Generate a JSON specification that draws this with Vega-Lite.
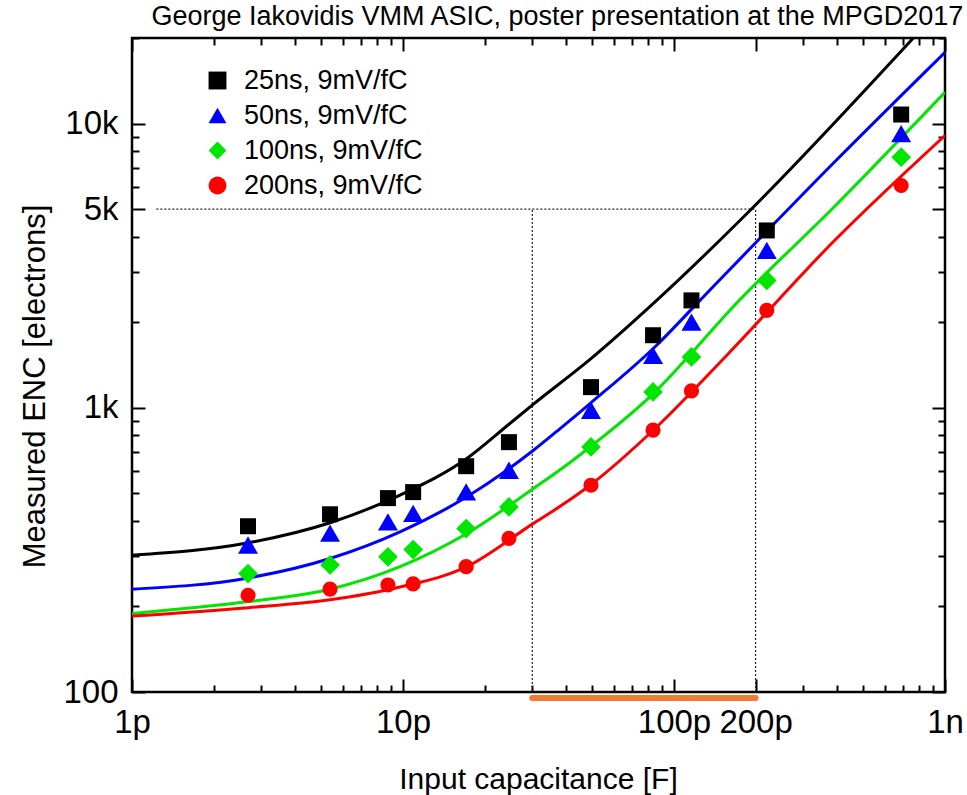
{
  "$schema": "https://vega.github.io/schema/vega-lite/v6.json",
  "width": 813,
  "height": 654,
  "autosize": "none",
  "padding": {"left": 132, "top": 38, "right": 22, "bottom": 103},
  "background": "white",
  "title": {"text": "George Iakovidis VMM ASIC, poster presentation at the MPGD2017", "anchor": "end", "font": "Liberation Sans", "fontSize": 27, "fontWeight": "normal", "color": "black", "baseline": "alphabetic", "offset": 10, "dy": 25},
  "config": {
    "view": {"stroke": "black", "strokeWidth": 2.5},
    "axis": {"grid": false, "tickColor": "black", "tickWidth": 2, "labelFont": "Liberation Sans", "labelColor": "black", "titleFont": "Liberation Sans", "titleColor": "black", "titleFontWeight": "normal"},
    "legend": {"labelFont": "Liberation Sans", "labelColor": "black", "labelLimit": 0}
  },
  "datasets": {
    "hguide": [{"c": 1.23, "c2": 200, "enc": 5000, "enc2": 5000}],
    "vguide": [{"c": 30, "c2": 30, "enc": 100, "enc2": 5000}, {"c": 200, "c2": 200, "enc": 100, "enc2": 5000}],
    "band": [{"c": 30, "c2": 200, "enc": 100}],
    "fit": [
      {"s": "25ns, 9mV/fC", "c": 1, "enc": 303}, {"s": "25ns, 9mV/fC", "c": 2.69, "enc": 335}, {"s": "25ns, 9mV/fC", "c": 5.38, "enc": 394}, {"s": "25ns, 9mV/fC", "c": 9.75, "enc": 493}, {"s": "25ns, 9mV/fC", "c": 17.2, "enc": 663}, {"s": "25ns, 9mV/fC", "c": 24.6, "enc": 875}, {"s": "25ns, 9mV/fC", "c": 30.3, "enc": 1030}, {"s": "25ns, 9mV/fC", "c": 49, "enc": 1480}, {"s": "25ns, 9mV/fC", "c": 86.3, "enc": 2387}, {"s": "25ns, 9mV/fC", "c": 190.7, "enc": 4945}, {"s": "25ns, 9mV/fC", "c": 764, "enc": 20000},
      {"s": "50ns, 9mV/fC", "c": 1, "enc": 230}, {"s": "50ns, 9mV/fC", "c": 2.69, "enc": 252}, {"s": "50ns, 9mV/fC", "c": 5.38, "enc": 295}, {"s": "50ns, 9mV/fC", "c": 9.75, "enc": 366}, {"s": "50ns, 9mV/fC", "c": 17.2, "enc": 486}, {"s": "50ns, 9mV/fC", "c": 30.3, "enc": 709}, {"s": "50ns, 9mV/fC", "c": 38, "enc": 845}, {"s": "50ns, 9mV/fC", "c": 49, "enc": 1035}, {"s": "50ns, 9mV/fC", "c": 86.3, "enc": 1660}, {"s": "50ns, 9mV/fC", "c": 124.7, "enc": 2387}, {"s": "50ns, 9mV/fC", "c": 387, "enc": 7250}, {"s": "50ns, 9mV/fC", "c": 1000, "enc": 17810},
      {"s": "100ns, 9mV/fC", "c": 1, "enc": 189}, {"s": "100ns, 9mV/fC", "c": 2.69, "enc": 208}, {"s": "100ns, 9mV/fC", "c": 5.38, "enc": 230}, {"s": "100ns, 9mV/fC", "c": 9.75, "enc": 276}, {"s": "100ns, 9mV/fC", "c": 17.2, "enc": 361}, {"s": "100ns, 9mV/fC", "c": 30.3, "enc": 520}, {"s": "100ns, 9mV/fC", "c": 38, "enc": 605}, {"s": "100ns, 9mV/fC", "c": 49, "enc": 728}, {"s": "100ns, 9mV/fC", "c": 86.3, "enc": 1152}, {"s": "100ns, 9mV/fC", "c": 124.7, "enc": 1681}, {"s": "100ns, 9mV/fC", "c": 158.6, "enc": 2172}, {"s": "100ns, 9mV/fC", "c": 387, "enc": 5053}, {"s": "100ns, 9mV/fC", "c": 1000, "enc": 12880},
      {"s": "200ns, 9mV/fC", "c": 1, "enc": 185}, {"s": "200ns, 9mV/fC", "c": 2.69, "enc": 198}, {"s": "200ns, 9mV/fC", "c": 5.38, "enc": 211}, {"s": "200ns, 9mV/fC", "c": 9.75, "enc": 234}, {"s": "200ns, 9mV/fC", "c": 17.2, "enc": 276}, {"s": "200ns, 9mV/fC", "c": 30.3, "enc": 392}, {"s": "200ns, 9mV/fC", "c": 38, "enc": 450}, {"s": "200ns, 9mV/fC", "c": 49, "enc": 534}, {"s": "200ns, 9mV/fC", "c": 86.3, "enc": 856}, {"s": "200ns, 9mV/fC", "c": 158.6, "enc": 1550}, {"s": "200ns, 9mV/fC", "c": 387, "enc": 3837}, {"s": "200ns, 9mV/fC", "c": 1000, "enc": 9078}
    ],
    "pts": [
      {"s": "25ns, 9mV/fC", "c": 2.68, "enc": 383}, {"s": "25ns, 9mV/fC", "c": 5.38, "enc": 422}, {"s": "25ns, 9mV/fC", "c": 8.8, "enc": 481}, {"s": "25ns, 9mV/fC", "c": 10.9, "enc": 505}, {"s": "25ns, 9mV/fC", "c": 17.1, "enc": 623}, {"s": "25ns, 9mV/fC", "c": 24.6, "enc": 757}, {"s": "25ns, 9mV/fC", "c": 49.4, "enc": 1182}, {"s": "25ns, 9mV/fC", "c": 83.7, "enc": 1800}, {"s": "25ns, 9mV/fC", "c": 116, "enc": 2387}, {"s": "25ns, 9mV/fC", "c": 220, "enc": 4206}, {"s": "25ns, 9mV/fC", "c": 689, "enc": 10760},
      {"s": "50ns, 9mV/fC", "c": 2.68, "enc": 329}, {"s": "50ns, 9mV/fC", "c": 5.38, "enc": 362}, {"s": "50ns, 9mV/fC", "c": 8.8, "enc": 397}, {"s": "50ns, 9mV/fC", "c": 10.9, "enc": 425}, {"s": "50ns, 9mV/fC", "c": 17.1, "enc": 506}, {"s": "50ns, 9mV/fC", "c": 24.6, "enc": 603}, {"s": "50ns, 9mV/fC", "c": 49.4, "enc": 980}, {"s": "50ns, 9mV/fC", "c": 83.7, "enc": 1530}, {"s": "50ns, 9mV/fC", "c": 116, "enc": 2003}, {"s": "50ns, 9mV/fC", "c": 220, "enc": 3579}, {"s": "50ns, 9mV/fC", "c": 689, "enc": 9223},
      {"s": "100ns, 9mV/fC", "c": 2.68, "enc": 261}, {"s": "100ns, 9mV/fC", "c": 5.38, "enc": 280}, {"s": "100ns, 9mV/fC", "c": 8.8, "enc": 299}, {"s": "100ns, 9mV/fC", "c": 10.9, "enc": 317}, {"s": "100ns, 9mV/fC", "c": 17.1, "enc": 376}, {"s": "100ns, 9mV/fC", "c": 24.6, "enc": 448}, {"s": "100ns, 9mV/fC", "c": 49.4, "enc": 728}, {"s": "100ns, 9mV/fC", "c": 83.7, "enc": 1137}, {"s": "100ns, 9mV/fC", "c": 116, "enc": 1509}, {"s": "100ns, 9mV/fC", "c": 220, "enc": 2806}, {"s": "100ns, 9mV/fC", "c": 689, "enc": 7615},
      {"s": "200ns, 9mV/fC", "c": 2.68, "enc": 219}, {"s": "200ns, 9mV/fC", "c": 5.38, "enc": 230}, {"s": "200ns, 9mV/fC", "c": 8.8, "enc": 238}, {"s": "200ns, 9mV/fC", "c": 10.9, "enc": 240}, {"s": "200ns, 9mV/fC", "c": 17.1, "enc": 276}, {"s": "200ns, 9mV/fC", "c": 24.6, "enc": 347}, {"s": "200ns, 9mV/fC", "c": 49.4, "enc": 534}, {"s": "200ns, 9mV/fC", "c": 83.7, "enc": 834}, {"s": "200ns, 9mV/fC", "c": 116, "enc": 1146}, {"s": "200ns, 9mV/fC", "c": 220, "enc": 2202}, {"s": "200ns, 9mV/fC", "c": 689, "enc": 6054}
    ]
  },
  "resolve": {"axis": {"x": "independent", "y": "independent"}},
  "layer": [
    {
      "data": {"name": "hguide"},
      "mark": {"type": "rule", "color": "#222222", "strokeWidth": 1.2, "strokeDash": [2, 2]},
      "encoding": {
        "x": {"field": "c", "type": "quantitative", "scale": {"type": "log", "domain": [1, 1000], "nice": false},
          "axis": {"orient": "bottom", "values": [1, 10, 100, 200, 1000], "ticks": false, "domain": false, "labelExpr": "datum.value >= 1000 ? '1n' : datum.value + 'p'", "labelFontSize": 33, "labelPadding": 40, "labelBaseline": "alphabetic", "labelFlush": false, "labelOverlap": false, "labelBound": false,
            "title": "Input capacitance [F]", "titleFontSize": 30, "titleX": 406, "titleY": 96, "titleBaseline": "alphabetic", "titleAlign": "center"}},
        "x2": {"field": "c2"},
        "y": {"field": "enc", "type": "quantitative", "scale": {"type": "log", "domain": [100, 20000], "nice": false},
          "axis": {"orient": "left", "values": [100, 1000, 5000, 10000], "ticks": false, "domain": false, "labelExpr": "datum.value >= 1000 ? (datum.value / 1000) + 'k' : '' + datum.value", "labelFontSize": 33, "labelPadding": 14, "labelBaseline": "middle", "labelAlign": "right", "labelOverlap": false, "labelBound": false, "labelFlush": false,
            "title": "Measured ENC [electrons]", "titleFontSize": 31, "titleX": -97, "titleY": 348, "titleAngle": 270, "titleAlign": "center", "titleBaseline": "middle"}},
        "y2": {"field": "enc2"}
      }
    },
    {
      "data": {"name": "vguide"},
      "mark": {"type": "rule", "color": "#222222", "strokeWidth": 1.2, "strokeDash": [2, 2]},
      "encoding": {
        "x": {"field": "c", "type": "quantitative", "scale": {"type": "log", "domain": [1, 1000], "nice": false},
          "axis": {"orient": "bottom", "values": [1, 10, 100, 200, 1000], "tickSize": 13, "offset": -13, "labels": false, "domain": false, "title": null}},
        "x2": {"field": "c2"},
        "y": {"field": "enc", "type": "quantitative", "scale": {"type": "log", "domain": [100, 20000], "nice": false},
          "axis": {"orient": "left", "values": [100, 1000, 5000, 10000], "tickSize": 13, "offset": -13, "labels": false, "domain": false, "title": null}},
        "y2": {"field": "enc2"}
      }
    },
    {
      "data": {"name": "band"},
      "mark": {"type": "rule", "color": "#f27a35", "strokeWidth": 6, "strokeCap": "round", "yOffset": 6},
      "encoding": {
        "x": {"field": "c", "type": "quantitative", "scale": {"type": "log", "domain": [1, 1000], "nice": false},
          "axis": {"orient": "bottom", "values": [2, 3, 4, 5, 6, 7, 8, 9, 20, 30, 40, 50, 60, 70, 80, 90, 300, 400, 500, 600, 700, 800, 900], "tickSize": 7, "offset": -7, "labels": false, "domain": false, "title": null}},
        "x2": {"field": "c2"},
        "y": {"field": "enc", "type": "quantitative", "scale": {"type": "log", "domain": [100, 20000], "nice": false},
          "axis": {"orient": "left", "values": [200, 300, 400, 500, 600, 700, 800, 900, 2000, 3000, 4000, 6000, 7000, 8000, 9000, 20000], "tickSize": 7, "offset": -7, "labels": false, "domain": false, "title": null}}
      }
    },
    {
      "data": {"name": "fit"},
      "mark": {"type": "line", "strokeWidth": 3, "interpolate": "monotone", "clip": true},
      "encoding": {
        "x": {"field": "c", "type": "quantitative", "scale": {"type": "log", "domain": [1, 1000], "nice": false},
          "axis": {"orient": "top", "values": [1, 10, 100, 200, 1000], "tickSize": 13, "offset": -13, "labels": false, "domain": false, "title": null}},
        "y": {"field": "enc", "type": "quantitative", "scale": {"type": "log", "domain": [100, 20000], "nice": false},
          "axis": {"orient": "right", "values": [100, 1000, 5000, 10000], "tickSize": 13, "offset": -13, "labels": false, "domain": false, "title": null}},
        "stroke": {"field": "s", "type": "nominal", "scale": {"domain": ["200ns, 9mV/fC", "100ns, 9mV/fC", "50ns, 9mV/fC", "25ns, 9mV/fC"], "range": ["#ff0000", "#00e600", "#0000ff", "#000000"]}, "legend": null}
      }
    },
    {
      "data": {"name": "pts"},
      "mark": {"type": "point", "filled": true, "opacity": 1},
      "encoding": {
        "x": {"field": "c", "type": "quantitative", "scale": {"type": "log", "domain": [1, 1000], "nice": false},
          "axis": {"orient": "top", "values": [2, 3, 4, 5, 6, 7, 8, 9, 20, 30, 40, 50, 60, 70, 80, 90, 300, 400, 500, 600, 700, 800, 900], "tickSize": 7, "offset": -7, "labels": false, "domain": false, "title": null}},
        "y": {"field": "enc", "type": "quantitative", "scale": {"type": "log", "domain": [100, 20000], "nice": false},
          "axis": {"orient": "right", "values": [200, 300, 400, 500, 600, 700, 800, 900, 2000, 3000, 4000, 6000, 7000, 8000, 9000, 20000], "tickSize": 7, "offset": -7, "labels": false, "domain": false, "title": null}},
        "fill": {"field": "s", "type": "nominal", "scale": {"domain": ["25ns, 9mV/fC", "50ns, 9mV/fC", "100ns, 9mV/fC", "200ns, 9mV/fC"], "range": ["#000000", "#0000ff", "#00e600", "#ff0000"]},
          "legend": {"title": null, "orient": "none", "legendX": 72, "legendY": 29, "labelFontSize": 27, "labelLimit": 0, "symbolSize": 320, "symbolStrokeWidth": 0, "rowPadding": 7, "labelOffset": 13, "padding": 0}},
        "shape": {"field": "s", "type": "nominal", "scale": {"domain": ["25ns, 9mV/fC", "50ns, 9mV/fC", "100ns, 9mV/fC", "200ns, 9mV/fC"], "range": ["square", "triangle-up", "diamond", "circle"]},
          "legend": {"title": null, "orient": "none", "legendX": 72, "legendY": 29, "labelFontSize": 27, "labelLimit": 0, "symbolSize": 320, "symbolStrokeWidth": 0, "rowPadding": 7, "labelOffset": 13, "padding": 0}},
        "size": {"field": "s", "type": "nominal", "scale": {"type": "ordinal", "domain": ["100ns, 9mV/fC", "200ns, 9mV/fC", "50ns, 9mV/fC", "25ns, 9mV/fC"], "range": [390, 230, 400, 256]}, "legend": null}
      }
    }
  ]
}
